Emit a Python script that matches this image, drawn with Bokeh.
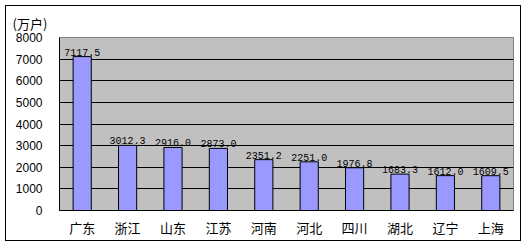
from bokeh.plotting import figure
from bokeh.models import FixedTicker, ColumnDataSource
from bokeh.core.properties import value
from bokeh.embed import file_html
from bokeh.resources import INLINE

provinces = ["广东", "浙江", "山东", "江苏", "河南", "河北", "四川", "湖北", "辽宁", "上海"]
households = [7117.5, 3012.3, 2916.0, 2873.0, 2351.2, 2251.0, 1976.8, 1683.3, 1612.0, 1609.5]
labels = ["%.1f" % v for v in households]
y_ticks = [0, 1000, 2000, 3000, 4000, 5000, 6000, 7000, 8000]
unit_label = "(万户)"

src = ColumnDataSource(dict(x=provinces, y=households, t=labels))

p = figure(x_range=provinces, y_range=(0, 8000), width=516, height=236,
           output_backend="svg", toolbar_location=None,
           min_border_left=53, min_border_right=9, min_border_top=31, min_border_bottom=32)
p.styles = {"border": "1px solid black", "margin": "5px 0 0 5px"}
p.background_fill_color = "#c0c0c0"
p.border_fill_color = "white"
p.outline_line_color = "#808080"
p.outline_line_width = 1

p.title.text = unit_label
p.title.align = "left"
p.title.offset = -47
p.title.standoff = 10
p.title.text_font = "Noto Sans CJK SC"
p.title.text_font_size = "13px"
p.title.text_font_style = "normal"
p.title.text_color = "black"

p.vbar(x="x", top="y", width=0.4, source=src, fill_color="#9999ff", line_color="black", line_width=1)
p.text(x="x", y="y", text="t", source=src, text_align="center", text_baseline="bottom",
       y_offset=-1, text_font=value("Liberation Mono"), text_font_size="10px", text_color="black")

p.xgrid.visible = False
p.ygrid.grid_line_color = "black"
p.ygrid.grid_line_width = 1
p.yaxis.ticker = FixedTicker(ticks=y_ticks)
p.yaxis.minor_tick_line_color = None
p.yaxis.major_tick_out = 0
p.yaxis.major_tick_in = 0
p.yaxis.major_label_standoff = 17
p.yaxis.major_label_text_font = "Liberation Sans"
p.yaxis.major_label_text_font_size = "12px"
p.yaxis.major_label_text_color = "black"
p.yaxis.axis_line_color = "black"

p.xaxis.major_tick_out = 0
p.xaxis.major_tick_in = 0
p.xaxis.major_label_standoff = 7
p.xaxis.major_label_text_font = "Noto Sans CJK SC"
p.xaxis.major_label_text_font_size = "13px"
p.xaxis.major_label_text_color = "black"
p.xaxis.axis_line_color = "black"

open("out.html", "w").write(file_html(p, INLINE))
